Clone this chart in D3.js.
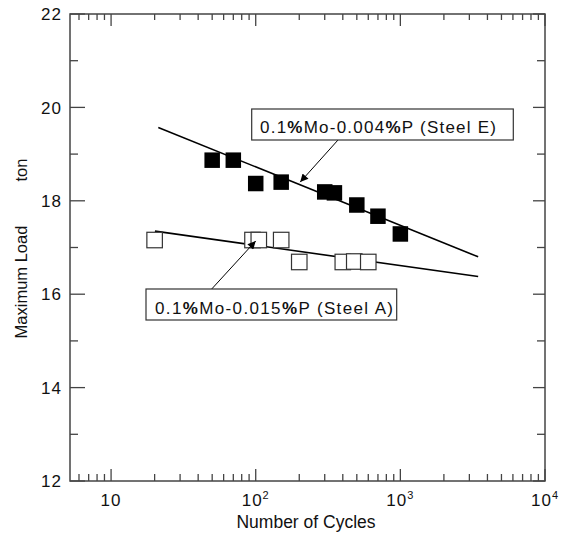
<!DOCTYPE html>
<html>
<head>
<meta charset="utf-8">
<script src="https://cdn.jsdelivr.net/npm/d3@7"></script>
<style>
  html, body { margin: 0; padding: 0; background: #fff; }
  svg { display: block; font-family: "Liberation Sans", Arial, sans-serif; }
</style>
</head>
<body>
<svg id="chart" width="567" height="533"></svg>
<script>
// ---- Data ----
const steelE_cycles = [50, 70, 100, 150, 300, 350, 500, 700, 1000];
const steelE_load   = [18.87, 18.87, 18.37, 18.40, 18.19, 18.17, 17.91, 17.67, 17.29];

const steelA_cycles = [20, 95, 105, 150, 200, 400, 480, 600];
const steelA_load   = [17.16, 17.16, 17.16, 17.16, 16.69, 16.69, 16.70, 16.69];

// fitted trend lines (end points)
const fitE_cycles = [21.2, 3450];
const fitE_load   = [19.57, 16.80];
const fitA_cycles = [20.1, 3450];
const fitA_load   = [17.35, 16.38];

const yTicksMajor = [12, 14, 16, 18, 20, 22];
const yTicksMinor = [13, 15, 17, 19, 21];
const xTicksMajor = [10, 100, 1000, 10000];
const xTickLabels = [["10", ""], ["10", "2"], ["10", "3"], ["10", "4"]];

const labelE = ["0.1", "%", "Mo-0.004", "%", "P (Steel E)"];
const labelA = ["0.1", "%", "Mo-0.015", "%", "P (Steel A)"];
// arrow tip locations (data coordinates on the fit lines)
const arrowE_tip = [203, 18.40];
const arrowA_tip = [100, 17.14];

// ---- Scales ----
const svg = d3.select("#chart");
const L = 70, R = 545, T = 14, B = 481;
const x = d3.scaleLog().domain([Math.pow(10, 0.716), 1e4]).range([L, R]);
const y = d3.scaleLinear().domain([12, 22]).range([B, T]);

const xMinor = [];
[1, 10, 100, 1000].forEach(d => { for (let k = 2; k <= 9; k++) { const v = d * k; if (x(v) > L + 1 && x(v) < R - 1) xMinor.push(v); } });

const axisColor = "#444";

// defs: arrowhead
svg.append("defs").append("marker")
  .attr("id", "ah").attr("viewBox", "0 0 10 10")
  .attr("refX", 10).attr("refY", 5)
  .attr("markerWidth", 10).attr("markerHeight", 8)
  .attr("markerUnits", "userSpaceOnUse")
  .attr("orient", "auto")
  .append("path").attr("d", "M0,0 L10,5 L0,10 Z").attr("fill", "#000");

// ---- Frame ----
svg.append("rect").attr("x", L).attr("y", T).attr("width", R - L).attr("height", B - T)
  .attr("fill", "none").attr("stroke", axisColor).attr("stroke-width", 1.5);

const ticks = svg.append("g").attr("stroke", axisColor).attr("stroke-width", 1.3);
// bottom & top x ticks
xTicksMajor.forEach(v => {
  ticks.append("line").attr("x1", x(v)).attr("x2", x(v)).attr("y1", B).attr("y2", B - 12);
  ticks.append("line").attr("x1", x(v)).attr("x2", x(v)).attr("y1", T).attr("y2", T + 12);
});
xMinor.forEach(v => {
  ticks.append("line").attr("x1", x(v)).attr("x2", x(v)).attr("y1", B).attr("y2", B - 7);
  ticks.append("line").attr("x1", x(v)).attr("x2", x(v)).attr("y1", T).attr("y2", T + 6);
});
// left & right y ticks
yTicksMajor.forEach(v => {
  ticks.append("line").attr("x1", L).attr("x2", L + 15).attr("y1", y(v)).attr("y2", y(v));
  ticks.append("line").attr("x1", R).attr("x2", R - 12).attr("y1", y(v)).attr("y2", y(v));
});
yTicksMinor.forEach(v => {
  ticks.append("line").attr("x1", L).attr("x2", L + 8).attr("y1", y(v)).attr("y2", y(v));
  ticks.append("line").attr("x1", R).attr("x2", R - 8).attr("y1", y(v)).attr("y2", y(v));
});

// ---- Tick labels ----
svg.append("g").selectAll("text").data(yTicksMajor).join("text")
  .attr("x", L - 8).attr("y", d => y(d)).attr("dy", "0.36em")
  .attr("text-anchor", "end").attr("font-size", 17).attr("letter-spacing", 1)
  .attr("fill", "#111").text(d => d);

const xl = svg.append("g");
xTicksMajor.forEach((v, i) => {
  const t = xl.append("text").attr("x", x(v)).attr("y", 506)
    .attr("text-anchor", "middle").attr("font-size", 17).attr("letter-spacing", 1).attr("fill", "#111");
  t.append("tspan").text(xTickLabels[i][0]);
  if (xTickLabels[i][1]) {
    t.append("tspan").attr("font-size", 11).attr("dy", -7).text(xTickLabels[i][1]);
  }
});

// ---- Axis titles ----
svg.append("text").attr("x", 306).attr("y", 528).attr("text-anchor", "middle")
  .attr("font-size", 17.5).attr("fill", "#111").text("Number of Cycles");
svg.append("text").attr("transform", "translate(26.5,282) rotate(-90)").attr("text-anchor", "middle")
  .attr("font-size", 16.5).attr("fill", "#111").text("Maximum Load");
svg.append("text").attr("transform", "translate(26.5,170) rotate(-90)").attr("text-anchor", "middle")
  .attr("font-size", 16.5).attr("fill", "#111").text("ton");

// ---- Fit lines ----
const line = d3.line().x(d => x(d[0])).y(d => y(d[1]));
svg.append("path").datum(d3.zip(fitE_cycles, fitE_load)).attr("d", line)
  .attr("fill", "none").attr("stroke", "#000").attr("stroke-width", 1.6);
svg.append("path").datum(d3.zip(fitA_cycles, fitA_load)).attr("d", line)
  .attr("fill", "none").attr("stroke", "#000").attr("stroke-width", 1.6);

// ---- Markers ----
const S = 15.5;
svg.append("g").selectAll("rect").data(d3.zip(steelA_cycles, steelA_load)).join("rect")
  .attr("x", d => x(d[0]) - S / 2).attr("y", d => y(d[1]) - S / 2)
  .attr("width", S).attr("height", S)
  .attr("fill", "#fff").attr("stroke", "#333").attr("stroke-width", 1.2);
svg.append("g").selectAll("rect").data(d3.zip(steelE_cycles, steelE_load)).join("rect")
  .attr("x", d => x(d[0]) - S / 2).attr("y", d => y(d[1]) - S / 2)
  .attr("width", S).attr("height", S)
  .attr("fill", "#000");

// ---- Annotations ----
function annot(parts, box, tx, ty, tlen, from, tip) {
  const g = svg.append("g");
  g.append("line").attr("x1", from[0]).attr("y1", from[1])
    .attr("x2", x(tip[0])).attr("y2", y(tip[1]))
    .attr("stroke", "#000").attr("stroke-width", 1).attr("marker-end", "url(#ah)");
  g.append("rect").attr("x", box[0]).attr("y", box[1]).attr("width", box[2]).attr("height", box[3])
    .attr("fill", "#fff").attr("stroke", "#333").attr("stroke-width", 1.2);
  const t = g.append("text").attr("x", tx).attr("y", ty).attr("font-size", 17)
    .attr("fill", "#111").attr("textLength", tlen).attr("lengthAdjust", "spacing");
  parts.forEach(p => {
    t.append("tspan").attr("font-weight", p === "%" ? "bold" : "normal").text(p);
  });
}
annot(labelE, [251.7, 109, 261.6, 31], 260, 132.5, 236, [338, 140], arrowE_tip);
annot(labelA, [146, 289, 250.7, 31], 155, 314.3, 238, [211.7, 289], arrowA_tip);
</script>
</body>
</html>
